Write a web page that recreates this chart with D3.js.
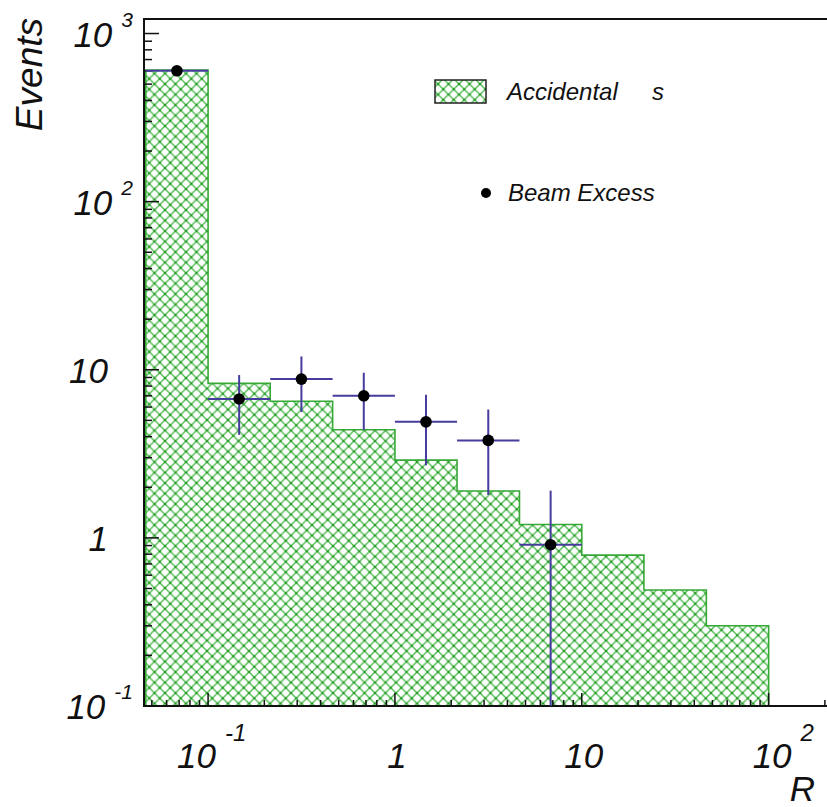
<!DOCTYPE html>
<html>
<head>
  <meta charset='utf-8'>
  <script src="https://d3js.org/d3.v7.min.js"></script>
  <style>
    body { margin: 0; background: #fff; }
    text { font-family: "Liberation Sans", Arial, sans-serif; font-style: italic; fill: #111; }
  </style>
</head>
<body>
  <script type='text/javascript'>
    // Bin edges of the R histogram (log spaced, three per decade)
    var binEdges = [0.0464, 0.1, 0.215, 0.464, 1, 2.15, 4.64, 10, 21.5, 46.4, 100];
    // Accidentals histogram contents
    var accidentals = [607, 8.3, 6.5, 4.4, 2.9, 1.9, 1.2, 0.79, 0.49, 0.3];
    // Beam excess points (one per bin, first seven bins)
    var beamBins = [0, 1, 2, 3, 4, 5, 6];
    var beamValues = [600, 6.7, 8.8, 7.0, 4.9, 3.8, 0.91];
    var beamErrors = [25, 2.6, 3.2, 2.6, 2.2, 2.0, 1.0];
    // Decade ticks
    var xDecades = [-1, 0, 1, 2];
    var yDecades = [-1, 0, 1, 2, 3];

    var W = 827, H = 807;
    var frame = {left: 144, right: 830, top: 19, bottom: 706};

    var svg = d3.select('body')
      .append('svg')
      .attr('width', W)
      .attr('height', H);

    var x = d3.scaleLog().domain([0.0454, 213]).range([frame.left, frame.right]);
    var y = d3.scaleLog().domain([0.1, 1220]).range([frame.bottom, frame.top]);

    // Cross hatch pattern like ROOT fill style
    var defs = svg.append('defs');
    var pw = 10.5;
    var pat = defs.append('pattern')
      .attr('id', 'hatch')
      .attr('patternUnits', 'userSpaceOnUse')
      .attr('width', pw).attr('height', pw)
      .attr('x', frame.left).attr('y', 0);
    pat.append('path')
      .attr('d', 'M0,0L' + pw + ',' + pw + 'M' + pw + ',0L0,' + pw)
      .attr('stroke', '#4fbb4f')
      .attr('stroke-width', 1.4)
      .attr('fill', 'none');
    pat.append('circle').attr('cx', pw / 2).attr('cy', pw / 2).attr('r', 1.3).attr('fill', '#2a9a2a');
    [[0, 0], [pw, 0], [0, pw], [pw, pw]].forEach(function(c) {
      pat.append('circle').attr('cx', c[0]).attr('cy', c[1]).attr('r', 1.3).attr('fill', '#2a9a2a');
    });

    // Histogram (step outline filled with hatch)
    var pts = [[x(binEdges[0]), frame.bottom]];
    accidentals.forEach(function(v, i) {
      pts.push([x(binEdges[i]), y(v)]);
      pts.push([x(binEdges[i + 1]), y(v)]);
    });
    pts.push([x(binEdges[binEdges.length - 1]), frame.bottom]);
    svg.append('path')
      .attr('d', d3.line()(pts))
      .attr('fill', 'url(#hatch)')
      .attr('stroke', '#36a836')
      .attr('stroke-width', 1.6);

    // Frame
    svg.append('path')
      .attr('d', 'M' + frame.right + ',' + frame.top + 'H' + frame.left + 'V' + frame.bottom + 'H' + frame.right)
      .attr('fill', 'none')
      .attr('stroke', '#111')
      .attr('stroke-width', 2);

    // Ticks on log axes
    var ticks = svg.append('g').attr('stroke', '#111').attr('stroke-width', 1.5);
    for (var d = -2; d <= 3; d++) {
      for (var m = 1; m <= 9; m++) {
        var v = m * Math.pow(10, d);
        var len;
        if (v >= x.domain()[0] && v <= x.domain()[1]) {
          len = m === 1 ? 13 : 6;
          ticks.append('line')
            .attr('x1', x(v)).attr('x2', x(v))
            .attr('y1', frame.bottom).attr('y2', frame.bottom - len);
        }
        if (v >= y.domain()[0] && v <= y.domain()[1]) {
          len = m === 1 ? 15 : 8;
          ticks.append('line')
            .attr('x1', frame.left).attr('x2', frame.left + len)
            .attr('y1', y(v)).attr('y2', y(v));
        }
      }
    }

    // Tick labels: "1", "10" plain, other decades as 10 with superscript
    function addLabel(g, e, supSize, supDy) {
      if (e === 0) { g.append('tspan').text('1'); }
      else if (e === 1) { g.append('tspan').text('10'); }
      else {
        g.append('tspan').text('10');
        g.append('tspan').attr('font-size', supSize).attr('dx', 9).attr('dy', supDy).text(e);
      }
    }
    yDecades.forEach(function(e) {
      var t = svg.append('text')
        .attr('font-size', 35)
        .attr('text-anchor', 'end')
        .attr('x', (e === 0 || e === 1) ? 108 : 133)
        .attr('y', y(Math.pow(10, e)) + 13);
      addLabel(t, e, 21, -20);
    });
    xDecades.forEach(function(e) {
      var t = svg.append('text')
        .attr('font-size', 35)
        .attr('y', 768);
      if (e === 0 || e === 1) {
        t.attr('text-anchor', 'middle').attr('x', x(Math.pow(10, e)) + 2);
      } else {
        t.attr('text-anchor', 'start').attr('x', x(Math.pow(10, e)) - (e < 0 ? 31 : 16));
      }
      addLabel(t, e, 24, -27);
    });

    // Axis titles
    svg.append('text')
      .attr('font-size', 37)
      .attr('text-anchor', 'end')
      .attr('transform', 'translate(42,18) rotate(-90)')
      .text('Events');
    svg.append('text')
      .attr('font-size', 35)
      .attr('text-anchor', 'end')
      .attr('x', 815).attr('y', 801)
      .text('R');

    // Beam excess: error bars then markers
    var errColor = '#463c9e';
    var eb = svg.append('g').attr('stroke', errColor).attr('stroke-width', 2);
    beamBins.forEach(function(b, i) {
      var cx = x(Math.sqrt(binEdges[b] * binEdges[b + 1]));
      var cy = y(beamValues[i]);
      var lo = beamValues[i] - beamErrors[i];
      eb.append('line')
        .attr('x1', Math.max(frame.left, x(binEdges[b]))).attr('x2', x(binEdges[b + 1]))
        .attr('y1', cy).attr('y2', cy);
      eb.append('line')
        .attr('x1', cx).attr('x2', cx)
        .attr('y1', y(beamValues[i] + beamErrors[i]))
        .attr('y2', lo > y.domain()[0] ? y(lo) : frame.bottom);
    });
    svg.append('g').selectAll('circle')
      .data(beamBins)
      .join('circle')
      .attr('cx', function(b) { return x(Math.sqrt(binEdges[b] * binEdges[b + 1])); })
      .attr('cy', function(b, i) { return y(beamValues[i]); })
      .attr('r', 5.8)
      .attr('fill', '#000');

    // Legend
    svg.append('rect')
      .attr('x', 435).attr('y', 80)
      .attr('width', 51).attr('height', 23)
      .attr('fill', 'url(#hatch)')
      .attr('stroke', '#222')
      .attr('stroke-width', 1.5);
    svg.append('text').attr('font-size', 24).attr('x', 507).attr('y', 100).text('Accidental');
    svg.append('text').attr('font-size', 24).attr('x', 652).attr('y', 100).text('s');
    svg.append('circle').attr('cx', 486).attr('cy', 193).attr('r', 5).attr('fill', '#000');
    svg.append('text').attr('font-size', 24).attr('x', 508).attr('y', 201).text('Beam Excess');
  </script>
</body>
</html>
